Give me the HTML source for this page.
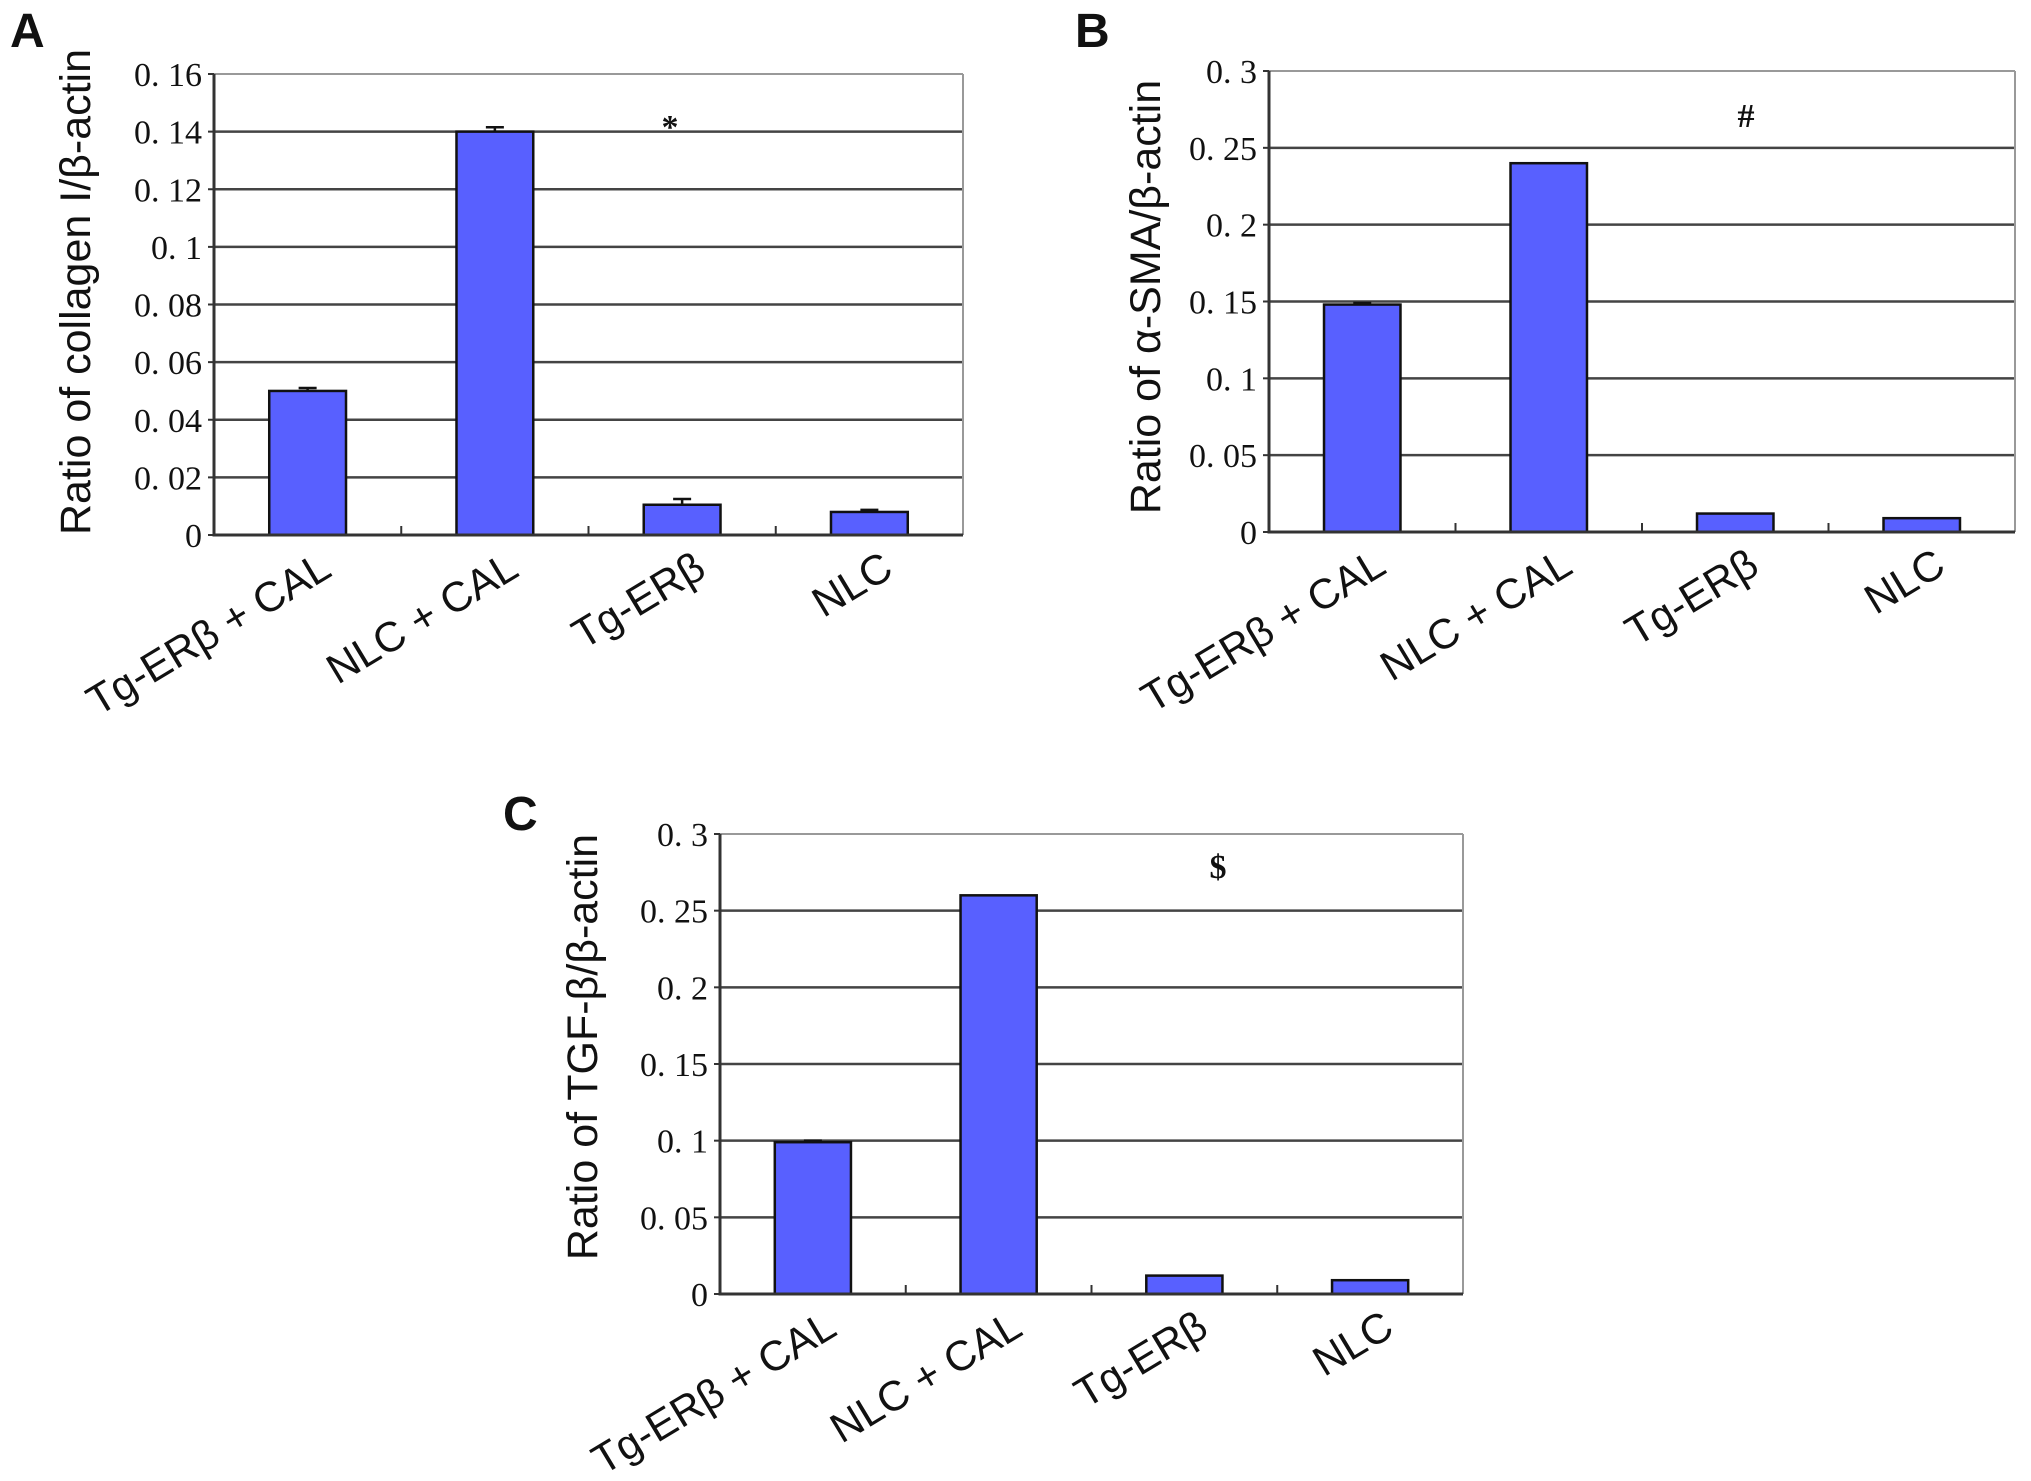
<!DOCTYPE html>
<html><head><meta charset="utf-8"><style>
html,body{margin:0;padding:0;background:#fff;}
svg{display:block;}
text{font-family:"Liberation Sans",sans-serif;}
.tick{font-family:"Liberation Serif",serif;font-size:34px;fill:#111;}
</style></head><body>
<svg id="fig" width="2031" height="1481" viewBox="0 0 2031 1481" xmlns="http://www.w3.org/2000/svg"></svg>
<script>
const categories = ["Tg-ERβ + CAL", "NLC + CAL", "Tg-ERβ", "NLC"];
const valuesA = [0.050, 0.140, 0.0105, 0.008];
const errorsA = [0.001, 0.0015, 0.002, 0.0007];
const valuesB = [0.148, 0.240, 0.012, 0.009];
const errorsB = [0.001, 0, 0, 0];
const valuesC = [0.099, 0.260, 0.012, 0.009];
const errorsC = [0.001, 0, 0, 0];
const ticksA = [0, 0.02, 0.04, 0.06, 0.08, 0.10, 0.12, 0.14, 0.16];
const tickLabelsA = ["0", "0. 02", "0. 04", "0. 06", "0. 08", "0. 1", "0. 12", "0. 14", "0. 16"];
const ticksB = [0, 0.05, 0.10, 0.15, 0.20, 0.25, 0.30];
const tickLabelsB = ["0", "0. 05", "0. 1", "0. 15", "0. 2", "0. 25", "0. 3"];

const NS = "http://www.w3.org/2000/svg";
const svg = document.getElementById("fig");
function mk(tag, attrs, parent) {
  const e = document.createElementNS(NS, tag);
  for (const k in attrs) e.setAttribute(k, attrs[k]);
  (parent || svg).appendChild(e);
  return e;
}

function panel(cfg) {
  const g = mk("g", {});
  
  
  const L = cfg.L, R = cfg.R, T = cfg.T, B = cfg.B;
  const max = cfg.ticks[cfg.ticks.length - 1];
  const y = v => B - (v / max) * (B - T);
  const band = (R - L) / categories.length;
  const cx = i => L + band * (i + 0.5);

  cfg.ticks.forEach((t, i) => {
    if (i === 0) return;
    const top = i === cfg.ticks.length - 1;
    const gl = mk("line", {x1: L, x2: R, y1: y(t), y2: y(t), stroke: top ? "#999" : "#444", "stroke-width": top ? 2 : 2.5}, g);
    
    
  });
  const rb = mk("line", {x1: R, x2: R, y1: T, y2: B, stroke: "#999", "stroke-width": 2}, g);
  
  
  cfg.ticks.forEach((t, i) => {
    const tl = mk("text", {x: L - 12, y: y(t) + 12, "text-anchor": "end", class: "tick"}, g);
    tl.textContent = cfg.tickLabels[i];
    
    
    const tk = mk("line", {x1: L - 6, x2: L, y1: y(t), y2: y(t), stroke: "#333", "stroke-width": 2}, g);
    
    
  });
  const bw = band * 0.41;
  cfg.values.forEach((v, i) => {
    const r = mk("rect", {x: cx(i) - bw / 2, y: y(v), width: bw, height: B - y(v), fill: "#5860ff", stroke: "#111", "stroke-width": 2.5}, g);
    
    
    const e = cfg.errors[i];
    if (e > 0) {
      const el = mk("path", {d: `M${cx(i)} ${y(v)} V${y(v + e)} M${cx(i) - 9} ${y(v + e)} H${cx(i) + 9}`, stroke: "#111", "stroke-width": 2.5, fill: "none"}, g);
      
      
    }
  });
  const ax = mk("path", {d: `M${L} ${T} V${B} H${R}`, stroke: "#333", "stroke-width": 3, fill: "none"}, g);
  
  
  for (let i = 1; i < categories.length; i++) {
    const xt = mk("line", {x1: L + band * i, x2: L + band * i, y1: B, y2: B - 9, stroke: "#333", "stroke-width": 2}, g);
    
    
  }
  categories.forEach((c, i) => {
    const ax0 = cx(i) + 26, ay0 = B + 40;
    const t = mk("text", {x: ax0, y: ay0, "text-anchor": "end", "font-size": 42, fill: "#111", transform: `rotate(-31 ${ax0} ${ay0})`}, g);
    t.textContent = c;
    
    
  });
  const yt = mk("text", {x: cfg.yx, y: cfg.yy, "text-anchor": "middle", "font-size": 43, fill: "#111", transform: `rotate(-90 ${cfg.yx} ${cfg.yy})`}, g);
  yt.textContent = cfg.ytitle;
  
  
  const s = mk("text", {x: cfg.sx, y: cfg.sy, "text-anchor": "middle", "font-size": 36, "font-weight": "bold", fill: "#111", class: "tick"}, g);
  s.textContent = cfg.sig;
  
  
  const p = mk("text", {x: cfg.px, y: cfg.py, "font-size": 48, "font-weight": "bold", fill: "#111"}, g);
  p.textContent = cfg.letter;
  
  
}

panel({id: "a", L: 214, R: 963, T: 74, B: 535, values: valuesA, errors: errorsA, ticks: ticksA, tickLabels: tickLabelsA,
  ytitle: "Ratio of  collagen I/β-actin", yx: 90, yy: 292, sig: "*", sx: 670, sy: 138, letter: "A", px: 10, py: 47});
panel({id: "b", L: 1269, R: 2015, T: 71, B: 532, values: valuesB, errors: errorsB, ticks: ticksB, tickLabels: tickLabelsB,
  ytitle: "Ratio of α-SMA/β-actin", yx: 1160, yy: 297, sig: "#", sx: 1746, sy: 127, letter: "B", px: 1075, py: 47});
panel({id: "c", L: 720, R: 1463, T: 834, B: 1294, values: valuesC, errors: errorsC, ticks: ticksB, tickLabels: tickLabelsB,
  ytitle: "Ratio of TGF-β/β-actin", yx: 597, yy: 1047, sig: "$", sx: 1218, sy: 878, letter: "C", px: 503, py: 830});
</script>
</body></html>
